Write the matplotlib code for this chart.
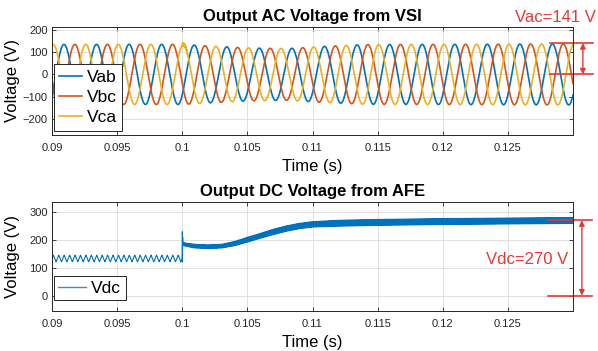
import numpy as np
import matplotlib
matplotlib.use("Agg")
import matplotlib.pyplot as plt
import matplotlib.transforms as mtransforms

plt.rcParams['font.family'] = ['Liberation Sans', 'DejaVu Sans']

# ---------------- data ----------------
x_ticks = [0.09, 0.095, 0.1, 0.105, 0.11, 0.115, 0.12, 0.125]
x_tick_labels = ['0.09', '0.095', '0.1', '0.105', '0.11', '0.115', '0.12', '0.125']
ac_y_ticks = [-200, -100, 0, 100, 200]
dc_y_ticks = [0, 100, 200, 300]
ac_labels = ['Vab', 'Vbc', 'Vca']
dc_label = 'Vdc'

f_ac = 400.0            # Hz, line frequency of VSI output
t_peak_vab = 0.09092    # time of first Vab peak (s)
# AC amplitude envelope
ac_env_t = [0.090, 0.100, 0.102, 0.105, 0.108, 0.111, 0.114, 0.130]
ac_env_v = [135, 135, 128, 119, 116, 126, 134, 137]

# DC link before AFE start (0.09 - 0.1 s)
dc_pre_mean = 133
dc_pre_ripple = 12
f_dc_ripple = 2400.0
# DC link after AFE start: band centre and half-thickness
dc_t = [0.1, 0.1003, 0.101, 0.102, 0.103, 0.104, 0.105, 0.106, 0.107, 0.108,
        0.109, 0.110, 0.112, 0.115, 0.120, 0.125, 0.130]
dc_mean = [186, 182, 177, 175, 177, 186, 200, 214, 228, 240,
           249, 255, 259, 262, 265, 267, 269]
dc_ripple = [6, 6, 7, 7, 7, 8, 9, 9, 10, 10, 10, 10, 11, 11, 11, 11, 11]
dc_spike_peak = 229
dc_spike_low = 120

vac_text = 'Vac=141 V'
vdc_text = 'Vdc=270 V'
vac_value = 141
vdc_value = 270

# ---------------- build waveforms ----------------
t = np.arange(0.09, 0.13, 1e-6)
A = np.interp(t, ac_env_t, ac_env_v)
ph = 2 * np.pi * f_ac * (t - t_peak_vab)
vab = A * np.cos(ph)
vbc = A * np.cos(ph - 2 * np.pi / 3)
vca = A * np.cos(ph + 2 * np.pi / 3)
glitch = (t >= 0.1) & (t < 0.1004)
vca = vca + np.where(glitch, 7 * np.sin(2 * np.pi * 15000 * (t - 0.1)), 0)

vdc = np.empty_like(t)
pre = t < 0.1
tri = (2 / np.pi) * np.arcsin(np.sin(2 * np.pi * f_dc_ripple * (t[pre] - 0.09)))
vdc[pre] = dc_pre_mean + dc_pre_ripple * tri
post = ~pre
m = np.interp(t[post], dc_t, dc_mean)
r = np.interp(t[post], dc_t, dc_ripple)
vdc[post] = m + r * np.sin(2 * np.pi * 12000 * (t[post] - 0.1))
# transient spike at switch-on
sp = (t >= 0.1) & (t < 0.10004)
vdc[sp] = np.where(t[sp] < 0.10001, dc_spike_peak, np.where(t[sp] < 0.10002, dc_spike_low, dc_spike_peak - 20))

# ---------------- plotting ----------------
W, H = 598, 351
fig = plt.figure(figsize=(W / 100, H / 100), dpi=100)

def px_axes(l, r, top, bot):
    return fig.add_axes([l / W, 1 - bot / H, (r - l) / W, (bot - top) / H])

ax1 = px_axes(52, 573, 27, 135)
ax2 = px_axes(52, 573, 202, 311)

colors = ['#0072BD', '#D95319', '#EDB120']
for y, c, lab in zip([vab, vbc, vca], colors, ac_labels):
    ax1.plot(t, y, color=c, lw=1.2, label=lab)
ax2.plot(t, vdc, color='#0072BD', lw=0.8, label=dc_label)

for ax, yt in [(ax1, ac_y_ticks), (ax2, dc_y_ticks)]:
    ax.set_xlim(0.09, 0.13)
    ax.set_xticks(x_ticks)
    ax.set_xticklabels(x_tick_labels)
    ax.set_yticks(yt)
    ax.tick_params(direction='in', length=3, width=0.6, labelsize=8,
                   colors='#262626', top=True, right=True)
    ax.tick_params(axis='x', pad=6)
    ax.tick_params(axis='y', pad=3)
    ax.grid(True, color='#DCDCDC', lw=0.6)
    ax.set_axisbelow(True)
    for s in ax.spines.values():
        s.set_color('#262626')
        s.set_linewidth(0.7)
    ax.set_xlabel('Time (s)', fontsize=12, labelpad=4)
    ax.set_ylabel('Voltage (V)', fontsize=12)
    ax.yaxis.set_label_coords(-0.062, 0.5)

ax1.set_ylim(-272, 213)
ax2.set_ylim(-55, 335)

ax1.set_title('Output AC Voltage from VSI', fontsize=12, fontweight='bold', pad=4)
ax2.set_title('Output DC Voltage from AFE', fontsize=12, fontweight='bold', pad=4)

leg1 = ax1.legend(loc='lower left', bbox_to_anchor=(0.004, 0.04), fontsize=12.5,
                  handlelength=1.3, handletextpad=0.3, borderpad=0.3,
                  labelspacing=0.3, fancybox=False, framealpha=1, borderaxespad=0)
leg1.get_frame().set_edgecolor('#262626')
leg1.get_frame().set_linewidth(0.7)
leg2 = ax2.legend(loc='lower left', bbox_to_anchor=(0.004, 0.1), fontsize=12.5,
                  handlelength=1.6, handletextpad=0.3, borderpad=0.25,
                  fancybox=False, framealpha=1, borderaxespad=0)
leg2.get_frame().set_edgecolor('#262626')
leg2.get_frame().set_linewidth(0.7)
for h in leg2.get_lines():
    h.set_color('#3A8FC8')
    h.set_linewidth(1.0)

red = '#E53935'
for ax, val, xl, xr, xa in [(ax1, vac_value, 0.956, 1.038, 1.019),
                            (ax2, vdc_value, 0.952, 1.036, 1.017)]:
    tr = mtransforms.blended_transform_factory(ax.transAxes, ax.transData)
    for yv in (val, 0):
        ax.plot([xl, xr], [yv, yv], color=red, lw=1.2, transform=tr, clip_on=False)
    ax.annotate('', xy=(xa, val), xytext=(xa, 0), xycoords=tr, textcoords=tr,
                arrowprops=dict(arrowstyle='<|-|>', color=red, lw=1.0,
                                mutation_scale=8, shrinkA=0, shrinkB=0),
                annotation_clip=False)

ax1.text(1.044, 1.09, vac_text, transform=ax1.transAxes, ha='right', va='center',
         fontsize=12, color=red)
ax2.text(0.990, 0.468, vdc_text, transform=ax2.transAxes, ha='right', va='center',
         fontsize=12, color=red)

fig.savefig('out.png', dpi=100)
